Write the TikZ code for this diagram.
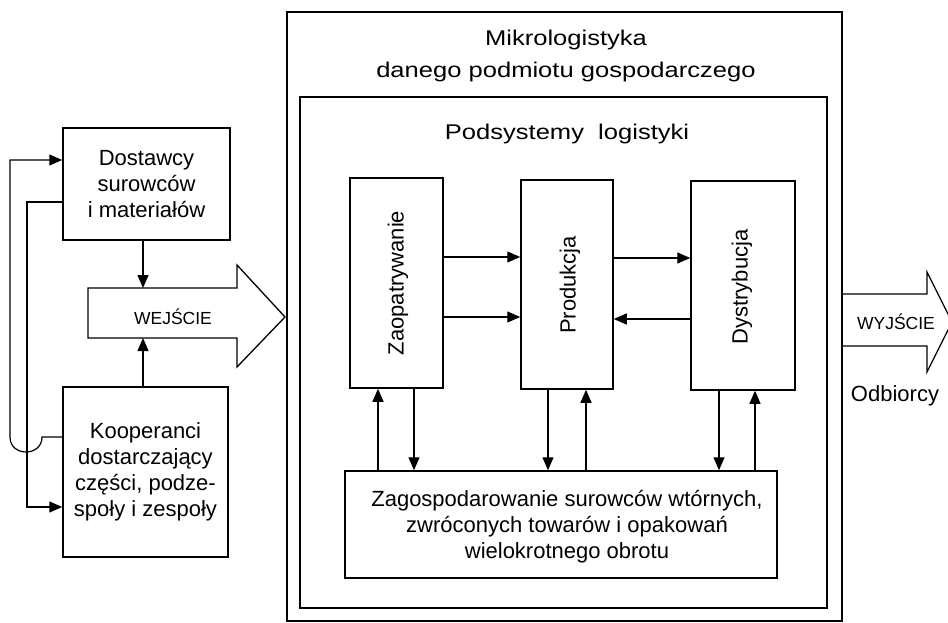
\documentclass[tikz,border=0pt]{standalone}
\usepackage{fontspec}
\setmainfont{Liberation Sans}
\newfontfamily\widefont{Liberation Sans}[FakeStretch=1.2]
\usetikzlibrary{arrows.meta}

\begin{document}
\begin{tikzpicture}[x=1pt,y=-1pt,
  every node/.style={font=\fontsize{22}{26}\selectfont, inner sep=0pt},
  box/.style={draw, line width=1.5pt, align=center},
  lbl/.style={align=center},
  wide/.style={anchor=base, font=\widefont\fontsize{21.3}{26}\selectfont},
  small/.style={font=\fontsize{17.5}{20}\selectfont},
  link/.style={line width=1.2pt},
  arr/.style={line width=1.2pt, -{Triangle[length=13pt,width=11pt]}}]

\useasboundingbox (0,0) rectangle (948,623);

% enclosing frames of the company
\node[box, minimum width=555pt, minimum height=609pt] (outer) at (564.5,316.5) {};
\node[box, minimum width=527pt, minimum height=511pt] (inner) at (563.5,352.5) {};
\node[wide] (t1) at (566,46) {Mikrologistyka};
\node[wide] (t2) at (566,78) {danego podmiotu gospodarczego};
\node[wide] (t3) at (567,140) {Podsystemy\ \ logistyki};

% suppliers on the input side
\node[box, minimum width=167pt, minimum height=112pt] (dost) at (146.5,184)
  {Dostawcy\\surowców\\i materiałów};
\node[box, minimum width=165pt, minimum height=170pt] (koop) at (145.5,472)
  {Kooperanci\\dostarczający\\części, podze-\\społy i zespoły};

% input arrow
\draw[link, line width=1.3pt] (88,288) -- (237,288) -- (237,265) -- (285,317)
  -- (237,367) -- (237,338) -- (88,338) -- cycle;
\coordinate (inTop) at (143,288);
\coordinate (inBot) at (143,338);
\node[small] (wej) at (173,317) {WEJŚCIE};
\draw[arr] (dost.south -| inTop) -- (inTop);
\draw[arr] (koop.north -| inBot) -- (inBot);

% feedback lines between the suppliers
\draw[arr] ([yshift=-18pt]dost.west) -- (27,202) -- (27,507) -- ([yshift=-35pt]koop.west);
\draw[arr] ([yshift=35pt]koop.west) -- (42,437)
  .. controls (42,457) and (10,457) .. (10,437) -- (10,160) -- ([yshift=24pt]dost.west);

% logistics subsystems
\node[box, minimum width=93pt, minimum height=210pt] (zaop) at (396.5,283) {};
\node[box, minimum width=92pt, minimum height=209pt] (prod) at (567,284.5) {};
\node[box, minimum width=104pt, minimum height=209pt] (dyst) at (743,285.5) {};
\node[rotate=90] (zaopL) at (398,283) {Zaopatrywanie};
\node[rotate=90] (prodL) at (570,285) {Produkcja};
\node[rotate=90] (dystL) at (742,287) {Dystrybucja};

\node[box, minimum width=432pt, minimum height=107pt] (bot) at (561,524.5) {};
\node[lbl] (botL) at (567,527)
  {Zagospodarowanie surowców wtórnych,\\zwróconych towarów i opakowań\\wielokrotnego obrotu};

% flows between subsystems
\draw[arr] ([yshift=26pt]zaop.east) -- ([yshift=26pt]zaop.east -| prod.west);
\draw[arr] ([yshift=-34pt]zaop.east) -- ([yshift=-34pt]zaop.east -| prod.west);
\draw[arr] ([yshift=26.5pt]prod.east) -- ([yshift=26.5pt]prod.east -| dyst.west);
\draw[arr] ([yshift=-33.5pt]dyst.west) -- ([yshift=-33.5pt]dyst.west -| prod.east);

\draw[arr] (bot.north -| 378,0) -- (zaop.south -| 378,0);
\draw[arr] (zaop.south -| 414,0) -- (bot.north -| 414,0);
\draw[arr] (prod.south -| 548,0) -- (bot.north -| 548,0);
\draw[arr] (bot.north -| 586,0) -- (prod.south -| 586,0);
\draw[arr] (dyst.south -| 719,0) -- (bot.north -| 719,0);
\draw[arr] (bot.north -| 755,0) -- (dyst.south -| 755,0);

% output arrow
\draw[link, line width=1.3pt] (outer.east |- 0,294) -- (927,294) -- (927,272) -- (952,322)
  -- (927,372) -- (927,346) -- (outer.east |- 0,346);
\node[small] (wyj) at (896,322) {WYJŚCIE};
\node (odb) at (895,396) {Odbiorcy};
\end{tikzpicture}
\end{document}
